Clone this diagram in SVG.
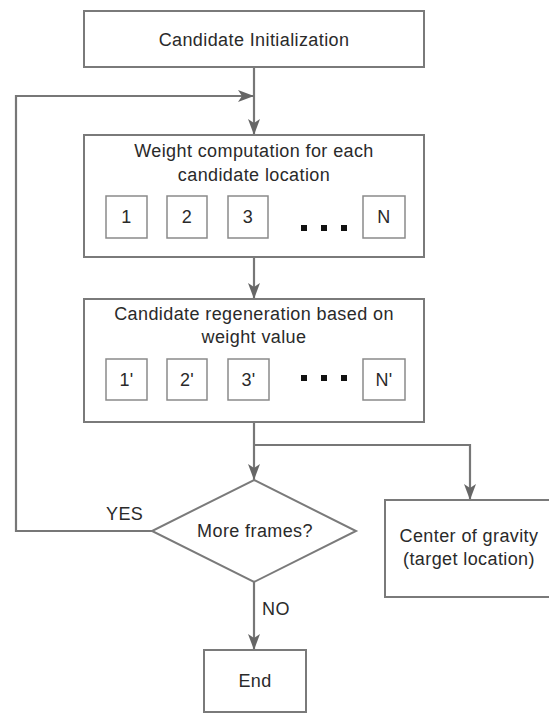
<svg xmlns="http://www.w3.org/2000/svg" width="549" height="716" viewBox="0 0 549 716">
<style>
  .box { fill: #ffffff; stroke: #7a7a7a; stroke-width: 2; }
  .ibox { fill: #ffffff; stroke: #8a8a8a; stroke-width: 1.5; }
  .dot { fill: #111111; }
  .t { font-family: "Liberation Sans", Arial, sans-serif; font-size: 18px; fill: #2a2a2a; text-anchor: middle; letter-spacing: 0.4px; }
  .lbl { font-family: "Liberation Sans", Arial, sans-serif; font-size: 18px; fill: #2a2a2a; letter-spacing: 0.4px; }
  .conn { fill: none; stroke: #777777; stroke-width: 2.2; }
</style>
<defs>
  <marker id="arr" markerUnits="userSpaceOnUse" markerWidth="16" markerHeight="12" refX="16" refY="6" orient="auto">
    <path d="M0,0 L16,6 L0,12 L4,6 z" fill="#666666"/>
  </marker>
</defs>
<rect width="549" height="716" fill="#ffffff"/>

<g id="connectors">
  <path class="conn" d="M254,67 L254,135" marker-end="url(#arr)"/>
  <path class="conn" d="M152,531 L16,531 L16,96 L254,96" marker-end="url(#arr)"/>
  <path class="conn" d="M254,257 L254,299" marker-end="url(#arr)"/>
  <path class="conn" d="M254,422 L254,480" marker-end="url(#arr)"/>
  <path class="conn" d="M254,445 L470,445 L470,500" marker-end="url(#arr)"/>
  <path class="conn" d="M254,582 L254,650" marker-end="url(#arr)"/>
</g>

<g id="init">
  <rect class="box" x="84" y="11" width="340" height="56"/>
  <text class="t" x="254" y="46">Candidate Initialization</text>
</g>

<g id="weight">
  <rect class="box" x="84" y="135" width="340" height="122"/>
  <text class="t" x="254" y="157">Weight computation for each</text>
  <text class="t" x="254" y="181">candidate location</text>
  <g id="w1"><rect class="ibox" x="106" y="196" width="41" height="42"/><text class="t" x="126.5" y="223">1</text></g>
  <g id="w2"><rect class="ibox" x="167" y="196" width="40" height="42"/><text class="t" x="187" y="223">2</text></g>
  <g id="w3"><rect class="ibox" x="228" y="196" width="40" height="42"/><text class="t" x="248" y="223">3</text></g>
  <rect class="dot" x="301" y="225" width="6" height="6"/>
  <rect class="dot" x="321" y="225" width="6" height="6"/>
  <rect class="dot" x="341" y="225" width="6" height="6"/>
  <g id="wN"><rect class="ibox" x="363" y="196" width="42" height="42"/><text class="t" x="384" y="223">N</text></g>
</g>

<g id="regen">
  <rect class="box" x="84" y="299" width="340" height="123"/>
  <text class="t" x="254" y="320">Candidate regeneration based on</text>
  <text class="t" x="254" y="343">weight value</text>
  <g id="r1"><rect class="ibox" x="106" y="359" width="41" height="41"/><text class="t" x="126.5" y="386">1'</text></g>
  <g id="r2"><rect class="ibox" x="167" y="359" width="40" height="41"/><text class="t" x="187" y="386">2'</text></g>
  <g id="r3"><rect class="ibox" x="228" y="359" width="41" height="41"/><text class="t" x="248.5" y="386">3'</text></g>
  <rect class="dot" x="301" y="375" width="6" height="6"/>
  <rect class="dot" x="321" y="375" width="6" height="6"/>
  <rect class="dot" x="341" y="375" width="6" height="6"/>
  <g id="rN"><rect class="ibox" x="363" y="359" width="42" height="41"/><text class="t" x="384" y="386">N'</text></g>
</g>

<g id="decision">
  <polygon class="box" points="254,480 356,531 254,582 152,531" stroke-width="1.5"/>
  <text class="t" x="255" y="537">More frames?</text>
</g>

<g id="cog">
  <rect class="box" x="385" y="500" width="170" height="97"/>
  <text class="t" x="469" y="542">Center of gravity</text>
  <text class="t" x="469" y="565">(target location)</text>
</g>

<g id="end">
  <rect class="box" x="204" y="650" width="102" height="62"/>
  <text class="t" x="255" y="687">End</text>
</g>

<g id="labels">
  <text class="lbl" x="106" y="520">YES</text>
  <text class="lbl" x="262" y="615">NO</text>
</g>
</svg>
